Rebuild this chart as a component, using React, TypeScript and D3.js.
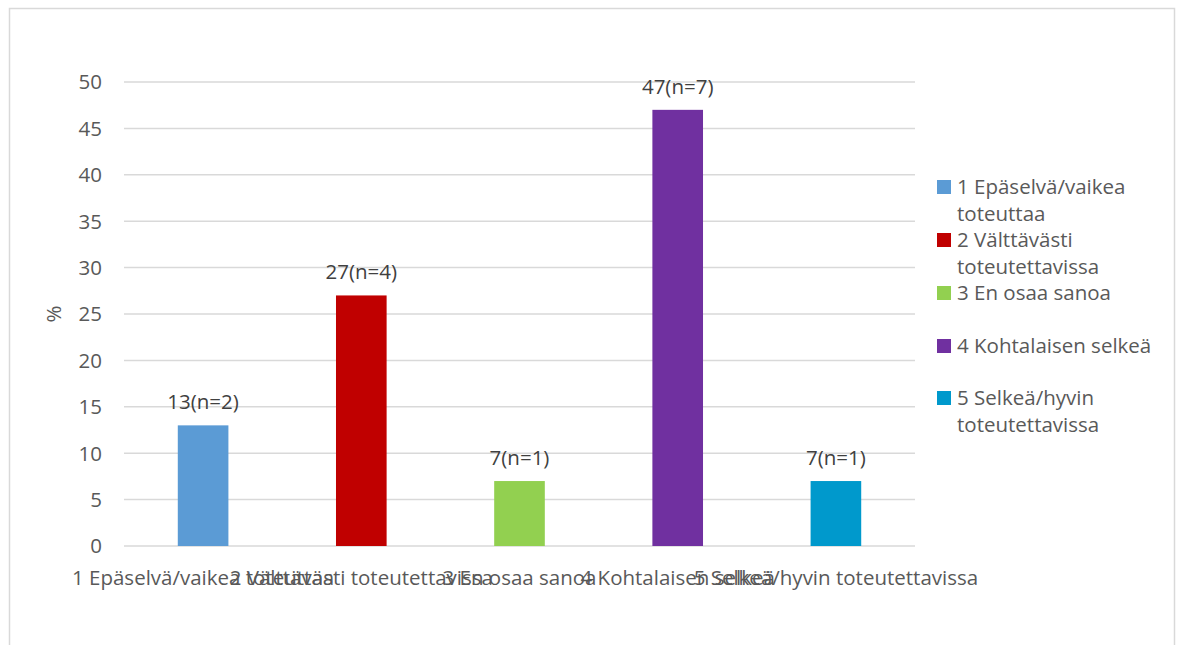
import React from "react";
import * as d3 from "d3";

const categories = [
  "1 Epäselvä/vaikea toteuttaa",
  "2 Välttävästi toteutettavissa",
  "3 En osaa sanoa",
  "4 Kohtalaisen selkeä",
  "5 Selkeä/hyvin toteutettavissa",
];
const values = [13, 27, 7, 47, 7];
const counts = [2, 4, 1, 7, 1];
const colors = ["#5B9BD5", "#C00000", "#92D050", "#7030A0", "#0099CC"];
const yTicks = [0, 5, 10, 15, 20, 25, 30, 35, 40, 45, 50];
const legendLines = [
  ["1 Epäselvä/vaikea", "toteuttaa"],
  ["2 Välttävästi", "toteutettavissa"],
  ["3 En osaa sanoa"],
  ["4 Kohtalaisen selkeä"],
  ["5 Selkeä/hyvin", "toteutettavissa"],
];

const W = 1182;
const H = 645;
const FONT = "'Open Sans', 'Noto Sans', sans-serif";
const TEXT = "#595959";
const FS = 20.5;

export default function App() {
  const x = d3.scaleBand<string>().domain(categories).range([124, 915]).paddingInner(0.68).paddingOuter(0.34);
  const y = d3.scaleLinear().domain([0, 50]).range([546, 82]);

  return (
    <svg width={W} height={H} style={{ position: "absolute", left: 0, top: 0 }}>
      <rect x={0} y={0} width={W} height={H} fill="#fff" />
      <rect x={9.5} y={8.5} width={1165} height={660} fill="#fff" stroke="#D9D9D9" strokeWidth={1.5} />
      {yTicks.map((t) => (
        <g key={t}>
          <line x1={124} x2={915} y1={y(t)} y2={y(t)} stroke="#D9D9D9" strokeWidth={1.5} />
          <text x={102} y={y(t)} dy="0.36em" textAnchor="end" fontFamily={FONT} fontSize={FS} fill={TEXT}>
            {t}
          </text>
        </g>
      ))}
      <text
        transform={`translate(61,${y(25)}) rotate(-90)`}
        textAnchor="middle"
        fontFamily={FONT}
        fontSize={FS}
        fill={TEXT}
      >
        %
      </text>
      {categories.map((c, i) => (
        <g key={c}>
          <rect x={x(c)!} y={y(values[i])} width={x.bandwidth()} height={y(0) - y(values[i])} fill={colors[i]} />
          <text
            x={x(c)! + x.bandwidth() / 2}
            y={y(values[i]) - 16}
            textAnchor="middle"
            fontFamily={FONT}
            fontSize={FS}
            fill="#404040"
          >
            {`${values[i]}(n=${counts[i]})`}
          </text>
          <text
            x={x(c)! + x.bandwidth() / 2}
            y={585}
            textAnchor="middle"
            fontFamily={FONT}
            fontSize={FS}
            fill={TEXT}
          >
            {c}
          </text>
        </g>
      ))}
      {legendLines.map((lines, i) => {
        const tops = [187, 240, 293, 346, 398];
        return (
          <g key={i}>
            <rect x={937} y={tops[i] - 7} width={14} height={14} fill={colors[i]} />
            {lines.map((l, j) => (
              <text key={j} x={957} y={tops[i] + j * 27} dy="0.36em" fontFamily={FONT} fontSize={FS} fill={TEXT}>
                {l}
              </text>
            ))}
          </g>
        );
      })}
    </svg>
  );
}
